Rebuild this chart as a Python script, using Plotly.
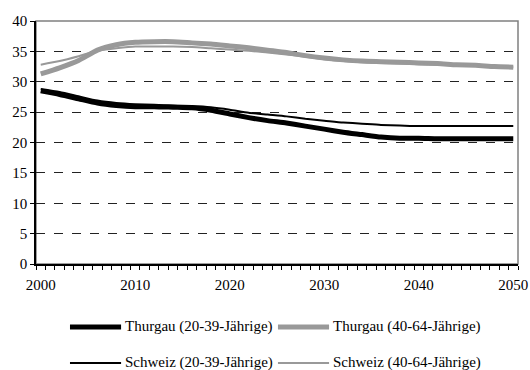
import plotly.graph_objects as go

years = list(range(2000, 2051, 2))

thurgau_20_39 = [28.5, 27.9, 27.2, 26.5, 26.1, 25.9, 25.9, 25.8, 25.7, 25.3,
                 24.7, 24.1, 23.6, 23.2, 22.7, 22.2, 21.7, 21.3, 20.9, 20.7,
                 20.7, 20.6, 20.6, 20.6, 20.6, 20.6]
schweiz_20_39 = [28.8, 28.3, 27.6, 26.9, 26.5, 26.3, 26.2, 26.1, 26.0, 25.8,
                 25.4, 24.9, 24.6, 24.3, 23.9, 23.6, 23.3, 23.1, 22.9, 22.8,
                 22.7, 22.7, 22.7, 22.7, 22.7, 22.7]
thurgau_40_64 = [31.3, 32.3, 33.5, 35.2, 36.1, 36.5, 36.6, 36.6, 36.4, 36.2,
                 35.9, 35.6, 35.2, 34.8, 34.3, 33.9, 33.6, 33.4, 33.3, 33.2,
                 33.1, 33.0, 32.8, 32.7, 32.5, 32.4]
schweiz_40_64 = [32.8, 33.4, 34.2, 35.1, 35.5, 35.8, 35.8, 35.8, 35.7, 35.5,
                 35.3, 35.1, 34.8, 34.5, 34.1, 33.7, 33.4, 33.2, 33.1, 33.0,
                 32.9, 32.8, 32.7, 32.6, 32.5, 32.4]

x_ticks = [2000, 2010, 2020, 2030, 2040, 2050]
y_ticks = [0, 5, 10, 15, 20, 25, 30, 35, 40]

GRAY = "#999999"
FONT = "Times New Roman, Liberation Serif, serif"

fig = go.Figure()
series = [
    ("Thurgau (20-39-Jährige)", thurgau_20_39, "black", 5),
    ("Thurgau (40-64-Jährige)", thurgau_40_64, GRAY, 5),
    ("Schweiz (20-39-Jährige)", schweiz_20_39, "black", 2),
    ("Schweiz (40-64-Jährige)", schweiz_40_64, GRAY, 2),
]
for name, vals, color, width in series:
    fig.add_trace(go.Scatter(
        x=years, y=vals, name=name, mode="lines",
        line=dict(color=color, width=width, shape="spline", smoothing=0.6),
        showlegend=False,
    ))

# gray frame on top/right; left and bottom axis lines are drawn in black
fig.add_shape(type="rect", xref="paper", yref="paper", x0=0, y0=0, x1=1, y1=1,
              line=dict(color="#808080", width=1.5), layer="below")

# legend: 2x2 grid of line samples with labels (paper coordinates)
legend_pos = [(0.0705, -0.259), (0.502, -0.259), (0.0705, -0.407), (0.502, -0.407)]
for (name, _, color, width), (lx, ly) in zip(series, legend_pos):
    fig.add_shape(type="line", xref="paper", yref="paper",
                  x0=lx, x1=lx + 0.106, y0=ly, y1=ly,
                  line=dict(color=color, width=width))
    fig.add_annotation(xref="paper", yref="paper", x=lx + 0.109, y=ly,
                       text=name, showarrow=False, xanchor="left",
                       yanchor="middle", font=dict(family=FONT, size=15,
                                                   color="black"))

fig.update_layout(
    width=530, height=370,
    margin=dict(l=36, r=12, t=21, b=106, autoexpand=False),
    paper_bgcolor="white", plot_bgcolor="white",
    font=dict(family=FONT, size=15, color="black"),
    showlegend=False,
    xaxis=dict(
        range=[1999.5, 2050.5], tickvals=x_ticks, ticks="outside", ticklen=6,
        tickcolor="rgba(0,0,0,0)", showgrid=False,
        zeroline=False, showline=True, linecolor="black", linewidth=1.5,
        tickfont=dict(family=FONT, size=15),
        minor=dict(tick0=1999.5, dtick=1, ticks="outside", ticklen=4,
                   tickcolor="black", showgrid=False),
    ),
    yaxis=dict(
        range=[0, 40], tickvals=y_ticks, ticks="outside", ticklen=4,
        tickcolor="black", showline=True, linecolor="black", linewidth=1.5,
        zeroline=False, showgrid=True, gridcolor="#222222", gridwidth=1,
        griddash="dash", tickfont=dict(family=FONT, size=15),
    ),
)

fig.write_html("out.html")
